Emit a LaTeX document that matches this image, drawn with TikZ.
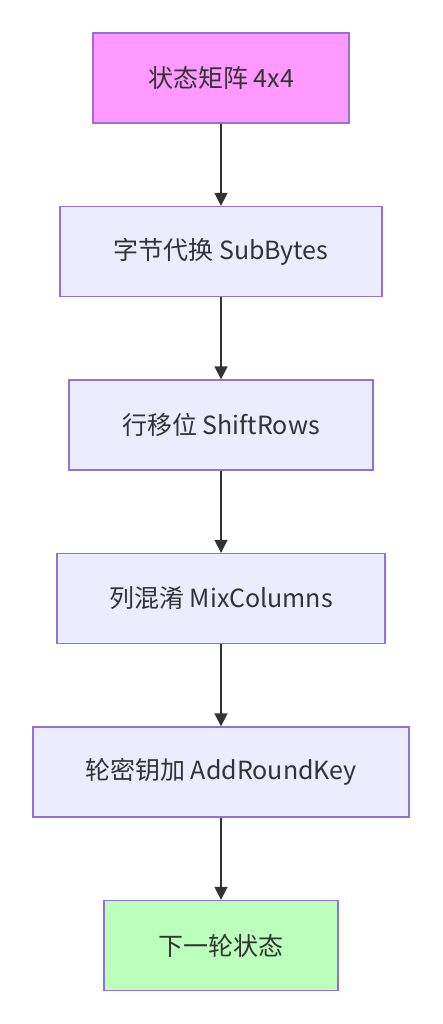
\documentclass[tikz,border=0pt]{standalone}
\usepackage{fontspec}
\setmainfont{Noto Sans CJK SC}
\usetikzlibrary{positioning,arrows.meta}
\usepackage{xcolor}
\definecolor{boxfill}{HTML}{ECECFF}
\definecolor{boxline}{HTML}{9370DB}
\definecolor{startfill}{HTML}{FF99FF}
\definecolor{endfill}{HTML}{BBFFBB}
\definecolor{inkgray}{HTML}{333333}
\begin{document}
\begin{tikzpicture}[node distance=82.2pt]
\tikzset{stage/.style={draw=boxline,line width=1.3pt,fill=boxfill,minimum height=90pt,text=inkgray,font=\fontsize{25pt}{30pt}\selectfont}}
\useasboundingbox (0,0) rectangle (442pt,-1024pt);
\node[stage,fill=startfill,minimum width=256pt] (state) at (221pt,-78pt) {状态矩阵 4x4};
\node[stage,minimum width=322pt,below=of state] (sub) {字节代换 SubBytes};
\node[stage,minimum width=304pt,below=of sub] (shift) {行移位 ShiftRows};
\node[stage,minimum width=328pt,below=of shift] (mix) {列混淆 MixColumns};
\node[stage,minimum width=376pt,below=of mix] (addkey) {轮密钥加 AddRoundKey};
\node[stage,fill=endfill,minimum width=234pt,below=of addkey] (next) {下一轮状态};
\foreach \a/\b in {state/sub,sub/shift,shift/mix,mix/addkey,addkey/next}
  \draw[-{Triangle[length=13pt,width=13pt]},line width=1.6pt,draw=inkgray,fill=inkgray] (\a)--(\b);
\end{tikzpicture}
\end{document}
